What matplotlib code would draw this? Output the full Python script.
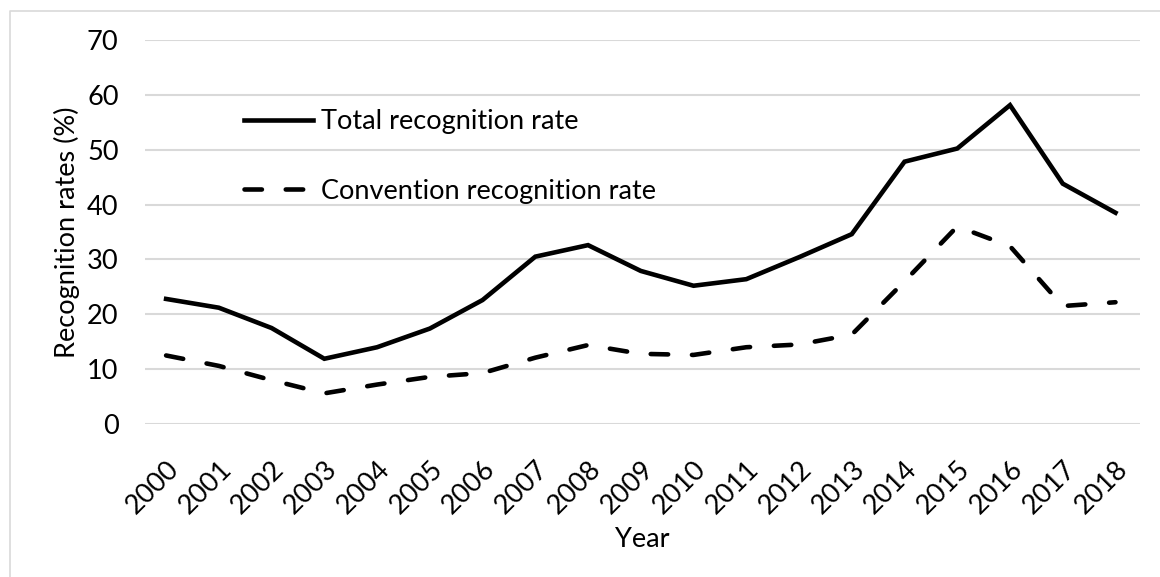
import matplotlib
matplotlib.use("Agg")
import matplotlib.pyplot as plt
from matplotlib.lines import Line2D

plt.rcParams['font.family'] = ['Lato', 'DejaVu Sans']

years = ['2000', '2001', '2002', '2003', '2004', '2005', '2006', '2007', '2008', '2009',
         '2010', '2011', '2012', '2013', '2014', '2015', '2016', '2017', '2018']
total_rate = [22.8, 21.2, 17.5, 11.9, 14.0, 17.4, 22.6, 30.5, 32.6, 27.9,
              25.2, 26.4, 30.4, 34.6, 47.8, 50.2, 58.1, 43.8, 38.5]
convention_rate = [12.5, 10.6, 8.0, 5.6, 7.2, 8.6, 9.3, 12.1, 14.4, 12.8,
                   12.6, 14.0, 14.5, 16.3, 26.0, 36.0, 32.4, 21.5, 22.2]

FS = 19.5

fig = plt.figure(figsize=(11.6, 5.77), dpi=100)
ax = fig.add_axes([0.125, 0.265, 0.858, 0.666])

# chart border (only left and top edges are inside the crop)
bx, by = 9.5 / 1160, 1 - 10.5 / 577
fig.lines.append(Line2D([bx, bx, 1.0], [0.0, by, by], transform=fig.transFigure,
                        color='#d9d9d9', linewidth=1.2))

x = list(range(len(years)))
ax.plot(x, total_rate, color='black', linewidth=3.3, solid_joinstyle='miter',
        label='Total recognition rate')
ax.plot(x, convention_rate, color='black', linewidth=3.3, dashes=(3.8, 5.2),
        dash_capstyle='round', label='Convention recognition rate')

ax.set_xlim(-0.4, len(years) - 0.53)
ax.set_ylim(0, 70)
ax.set_yticks(range(0, 71, 10))
ax.yaxis.grid(True, color='#d9d9d9', linewidth=1.5)
ax.set_axisbelow(True)
for s in ax.spines.values():
    s.set_visible(False)

ax.set_xticks(x)
ax.set_xticklabels(years, rotation=45, ha='right', rotation_mode='anchor', fontsize=FS)
ax.tick_params(axis='both', length=0, labelsize=FS)
ax.tick_params(axis='x', pad=23)
ax.tick_params(axis='y', pad=19)

ax.set_xlabel('Year', fontsize=FS, labelpad=6)
ax.set_ylabel('Recognition rates (%)', fontsize=FS, labelpad=5)

ax.legend(loc='upper left', bbox_to_anchor=(0.075, 0.883), frameon=False, fontsize=FS,
          handlelength=2.55, handletextpad=0.3, labelspacing=1.64)

fig.savefig('out.png', dpi=100)
